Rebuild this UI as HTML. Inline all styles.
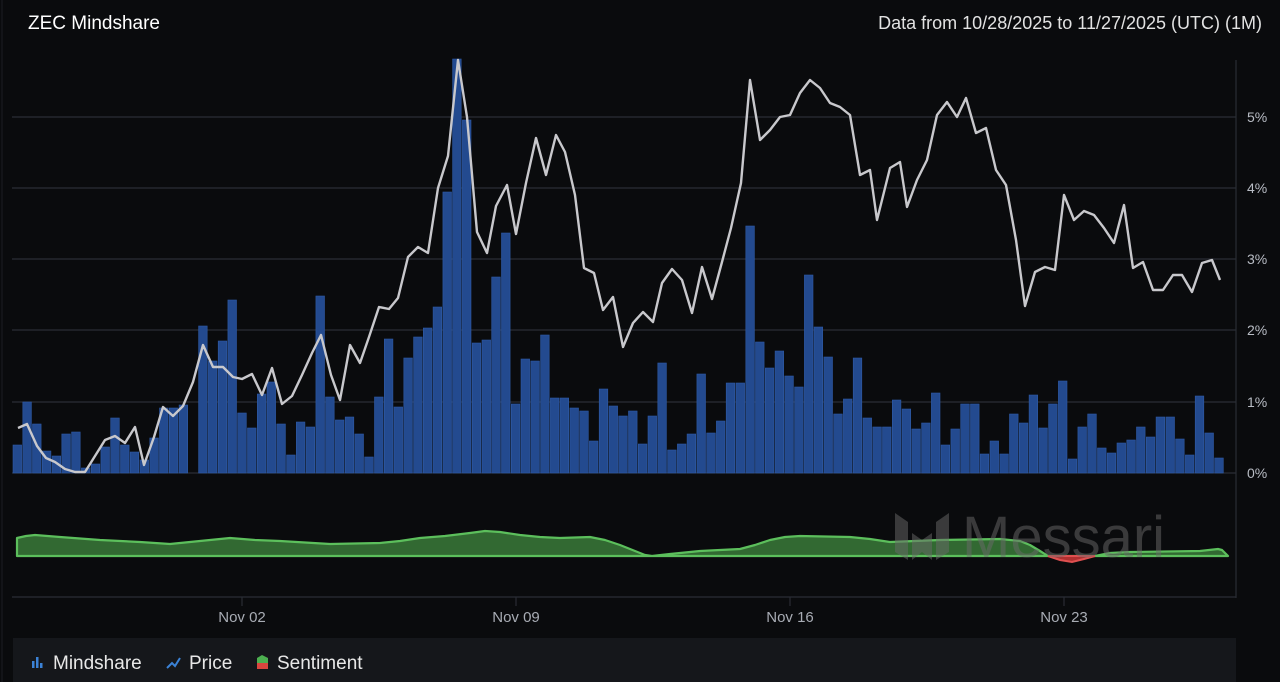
<!DOCTYPE html>
<html><head><meta charset="utf-8"><style>
html,body{margin:0;padding:0;background:#0a0b0d;width:1280px;height:682px;overflow:hidden;font-family:"Liberation Sans",sans-serif}
</style></head><body>
<svg id="s" width="1280" height="682" xmlns="http://www.w3.org/2000/svg" style="position:absolute;left:0;top:0">
<rect x="0" y="0" width="1280" height="682" fill="#0a0b0d"/>
<line x1="2" y1="0" x2="2" y2="682" stroke="#1c1e24" stroke-width="1"/>
<text x="28" y="29" fill="#ffffff" font-size="19">ZEC Mindshare</text>
<text x="1262" y="29" fill="#e2e2e2" font-size="18" text-anchor="end">Data from 10/28/2025 to 11/27/2025 (UTC) (1M)</text>
<g stroke="#2a2d35" stroke-width="1.2">
<line x1="12" y1="117" x2="1236" y2="117"/><line x1="12" y1="188" x2="1236" y2="188"/>
<line x1="12" y1="259" x2="1236" y2="259"/><line x1="12" y1="330" x2="1236" y2="330"/>
<line x1="12" y1="402" x2="1236" y2="402"/><line x1="12" y1="473" x2="1236" y2="473"/>
<line x1="1236" y1="60" x2="1236" y2="598"/>
<line x1="12" y1="597" x2="1236" y2="597"/>
<line x1="242" y1="597" x2="242" y2="606"/><line x1="516" y1="597" x2="516" y2="606"/>
<line x1="790" y1="597" x2="790" y2="606"/><line x1="1064" y1="597" x2="1064" y2="606"/>
</g>
<g fill="#b8bcc4" font-size="14">
<text x="1247" y="122">5%</text><text x="1247" y="193">4%</text><text x="1247" y="264">3%</text>
<text x="1247" y="335">2%</text><text x="1247" y="407">1%</text><text x="1247" y="478">0%</text>
</g>
<g fill="#a8acb4" font-size="15" text-anchor="middle">
<text x="242" y="622">Nov 02</text><text x="516" y="622">Nov 09</text><text x="790" y="622">Nov 16</text><text x="1064" y="622">Nov 23</text>
</g>
<g id="bars" fill="#234a8f" stroke="#2f5aa5" stroke-width="0.6"></g>
<path id="sentG" fill="#3a7a3a" fill-opacity="0.85" stroke="#5cbf5c" stroke-width="2.2" stroke-linejoin="round"/>
<path id="sentR" fill="#b03030" stroke="#e05050" stroke-width="2"/>
<g id="wm" fill="#6a6a6a" opacity="0.5">
<polygon points="895,513 908,522 908,560 895,552"/>
<polygon points="912,533 922,540 932,533 932,560 922,552 912,560"/>
<polygon points="949,513 936,522 936,560 949,552"/>
<text x="962" y="557" font-size="58" font-family="Liberation Sans" fill="#6a6a6a">Messari</text>
</g>
<polyline id="price" fill="none" stroke="#c8c8cc" stroke-width="2.4" stroke-linejoin="round"/>
<rect x="13" y="638" width="1223" height="44" fill="#15171b"/>
<g fill="#3b82d6"><rect x="32" y="661" width="2.5" height="7"/><rect x="36" y="657" width="2.5" height="11"/><rect x="40" y="663" width="2.5" height="5"/></g>
<text x="53" y="669" fill="#e8e8e8" font-size="19">Mindshare</text>
<polyline points="167,668 172,663 175,666 180,658" fill="none" stroke="#3b82d6" stroke-width="2"/>
<text x="189" y="669" fill="#e8e8e8" font-size="19">Price</text>
<polygon points="257,658 262,655 268,658 268,663 257,663" fill="#4caf50"/>
<rect x="257" y="663" width="11" height="6" fill="#d9463e"/>
<text x="277" y="669" fill="#e8e8e8" font-size="19">Sentiment</text>
</svg>
<script>
var tops=[445,402,424,451,456,434,432,468,464,447,418,445,452,460,438,408,408,405,472,326,361,341,300,413,428,394,382,424,455,422,427,296,397,420,417,434,457,397,339,407,358,337,328,307,192,59,120,343,340,277,233,404,359,361,335,398,398,408,411,441,389,406,416,411,444,416,363,450,444,434,374,433,421,383,383,226,342,368,351,376,387,275,327,357,414,399,358,418,427,427,400,409,429,423,393,445,429,404,404,454,441,454,414,423,395,428,404,381,459,427,414,448,453,443,440,427,437,417,417,439,455,396,433,458];
var b='';for(var i=0;i<tops.length;i++){var x=13+i*9.77;if(i==18)continue;b+='<rect x="'+x.toFixed(1)+'" y="'+tops[i]+'" width="8.6" height="'+(473-tops[i])+'"/>';}
document.getElementById('bars').innerHTML=b;
var p=[[18,428],[27,424],[37,446],[46,458],[55,462],[65,469],[75,472],[85,472],[95,456],[105,440],[115,436],[125,443],[135,427],[144,465],[154,437],[163,407],[173,416],[183,406],[193,382],[203,345],[213,367],[223,367],[233,377],[242,379],[252,374],[262,395],[272,368],[282,404],[292,396],[302,375],[312,353],[321,335],[331,375],[340,400],[350,345],[360,363],[369,337],[379,307],[389,309],[398,298],[408,257],[418,247],[428,253],[438,188],[448,156],[458,60],[467,117],[477,232],[487,253],[496,206],[507,185],[516,234],[526,183],[536,138],[546,175],[556,135],[565,152],[575,195],[584,268],[594,273],[603,310],[613,297],[623,347],[633,323],[643,312],[653,322],[662,283],[672,269],[682,280],[692,313],[702,267],[712,299],[722,262],[731,228],[741,183],[750,80],[760,140],[770,130],[780,117],[790,115],[800,93],[810,80],[820,88],[830,103],[840,107],[850,115],[860,175],[870,170],[877,220],[890,168],[900,162],[907,207],[917,180],[927,160],[937,115],[947,102],[957,117],[966,98],[976,133],[986,128],[996,170],[1006,185],[1016,240],[1025,306],[1035,272],[1045,267],[1055,270],[1064,195],[1074,220],[1084,211],[1094,215],[1104,228],[1114,243],[1124,205],[1133,268],[1143,262],[1153,290],[1163,290],[1173,275],[1182,275],[1192,292],[1202,263],[1212,260],[1220,280]];
document.getElementById('price').setAttribute('points',p.map(function(a){return a.join(',')}).join(' '));
var g=[[17,538],[26,536],[35,535],[60,537],[100,540],[140,542],[170,544],[200,541],[230,538],[255,540],[280,541],[330,544],[380,543],[400,541],[420,538],[445,536],[470,533],[485,531],[500,532],[520,535],[540,537],[560,538],[590,537],[605,540],[620,545],[635,551],[645,555],[652,556],[670,554],[700,551],[740,549],[755,545],[770,540],[785,537],[800,536],[850,537],[870,539],[890,542],[915,541],[940,540],[1000,539],[1020,541],[1030,545],[1040,551],[1048,556],[1095,556],[1110,553],[1130,552],[1200,551],[1218,549],[1222,550],[1228,556]];
var d='M17,556 ';g.forEach(function(a){d+='L'+a[0]+','+a[1]+' ';});d+='L1228,556 Z';
document.getElementById('sentG').setAttribute('d',d);
document.getElementById('sentR').setAttribute('d','M1048,556 L1060,560 L1072,562 L1084,559 L1095,556 Z');
</script>
</body></html>
